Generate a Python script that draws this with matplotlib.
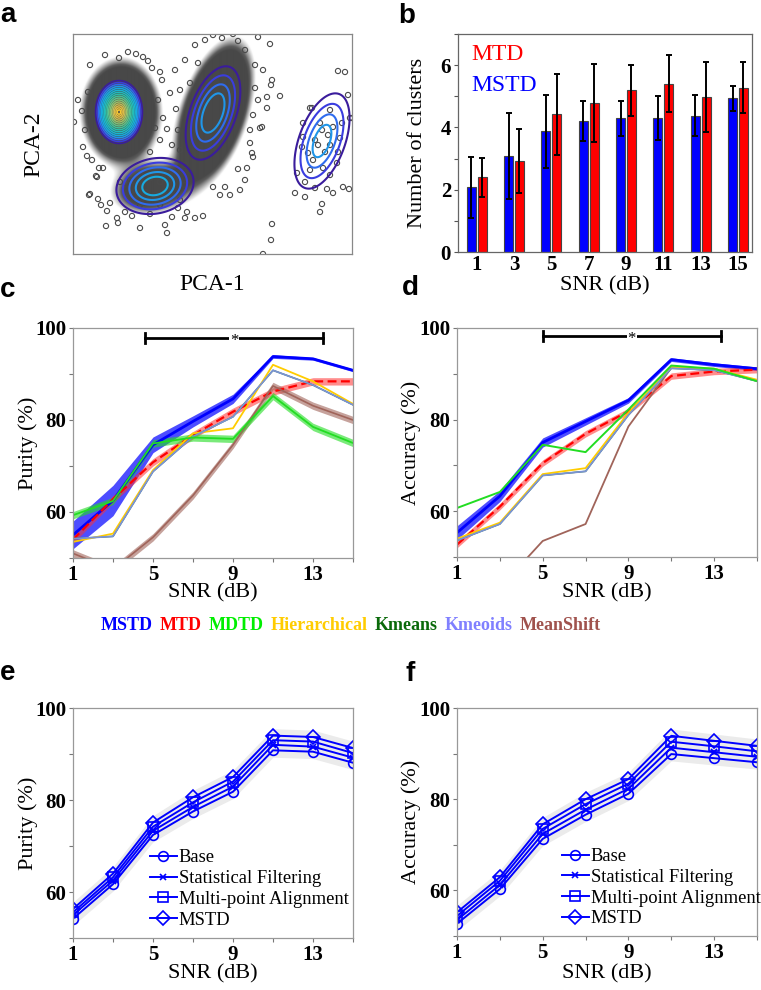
import numpy as np
import matplotlib
matplotlib.use("Agg")
import matplotlib.pyplot as plt
from matplotlib.colors import LinearSegmentedColormap
from matplotlib.offsetbox import TextArea, HPacker, AnchoredOffsetbox

plt.rcParams['font.family'] = ['Liberation Serif', 'DejaVu Serif']

# ---------------- panel a: PCA scatter (coordinates, y runs downward)
out_x = [74, 78, 82, 88, 119, 136, 148, 160, 170, 167, 155, 85, 83, 87, 90, 105, 128, 143, 152, 162,
         158, 163, 160, 150, 92, 99, 176, 190, 198,
         96, 103, 90, 98, 101, 107, 106, 117, 118, 140, 165, 167, 187, 195, 203, 97, 89, 110, 172, 185,
         213, 225, 125, 132, 150, 178, 130, 140, 150, 160, 170, 145, 155, 165, 175, 135, 125, 185, 120,
         140, 160, 180,
         213, 233, 238, 258, 270, 263, 272, 280, 267, 253, 262, 255, 271, 260, 267, 250, 247, 253, 238,
         252, 175, 180, 185, 195, 205, 222, 245, 255, 258, 250, 245, 240, 230, 220, 178, 180, 185, 172,
         272, 271, 263,
         338, 345, 348, 310, 303, 352, 312, 330, 320, 333, 342, 350, 303, 315, 328, 340, 302, 308, 313,
         325, 338, 323, 337, 297, 305, 315, 327, 343, 349, 295, 305, 322, 320, 333, 318, 330, 322, 310, 330]
out_y = [122, 100, 111, 92, 58, 54, 61, 72, 93, 129, 128, 130, 147, 156, 65, 55, 52, 57, 68, 80,
         100, 118, 140, 152, 160, 168, 109, 83, 63,
         176, 168, 194, 199, 205, 211, 226, 218, 223, 228, 225, 233, 212, 218, 216, 177, 195, 203, 217, 218,
         187, 187, 212, 216, 214, 208, 180, 175, 178, 182, 180, 192, 195, 195, 192, 195, 188, 185, 182,
         205, 205, 200,
         35, 34, 41, 37, 44, 70, 80, 96, 97, 115, 127, 65, 85, 128, 108, 143, 168, 157, 169,
         153, 70, 90, 60, 45, 40, 38, 50, 88, 100, 130, 180, 190, 195, 195, 130, 150, 165, 145,
         224, 240, 254,
         71, 72, 95, 108, 123, 118, 108, 110, 123, 127, 123, 118, 137, 140, 135, 138, 147, 153, 160,
         152, 152, 168, 163, 173, 182, 188, 189, 187, 189, 193, 197, 204, 212, 193, 145, 145, 130, 170, 175]

# dense point clouds (centre, spread along / across the tilt, tilt in degrees, relative density)
cloud_cx = [121, 214, 152]
cloud_cy = [112, 113, 188]
cloud_su = [16.5, 32, 22]
cloud_sv = [22, 14, 14]
cloud_ang = [0, -72, -10]
cloud_peak = [1.0, 1.0, 0.25]

# fitted density contours per cluster: centre, outer ring semi-axes, tilt, ring count, innermost ring
ring_cx = [119, 213, 155, 322]
ring_cy = [112, 113, 186, 141]
ring_a = [23.5, 49, 39, 50]
ring_b = [31.5, 23, 27.5, 23]
ring_ang = [0, -70, -12, -70]
ring_n = [16, 4, 5, 4]
ring_inner = [0.07, 0.42, 0.33, 0.34]

# ---------------- panel b: number of clusters
snr_b = [1, 3, 5, 7, 9, 11, 13, 15]
ncl_mstd = [2.08, 3.07, 3.88, 4.21, 4.29, 4.31, 4.38, 4.93]
ncl_mstd_err = [0.98, 1.38, 1.17, 0.63, 0.55, 0.70, 0.67, 0.40]
ncl_mtd = [2.40, 2.93, 4.43, 4.78, 5.19, 5.41, 4.97, 5.28]
ncl_mtd_err = [0.62, 1.02, 1.30, 1.26, 0.82, 0.90, 1.12, 0.83]

# ---------------- panels c, d: method comparison
snr = [1, 3, 5, 7, 9, 11, 13, 15]
pur_mstd = [55.0, 62.5, 74.6, 79.7, 84.6, 93.8, 93.3, 90.8]
pur_mstd_sd = [3.0, 3.3, 1.7, 1.2, 1.0, 0.4, 0.3, 0.3]
pur_mtd = [54.0, 62.8, 70.8, 76.7, 81.8, 86.2, 88.4, 88.4]
pur_mtd_sd = [0.8, 0.8, 0.8, 0.8, 0.8, 0.8, 0.8, 0.8]
pur_mdtd = [59.3, 62.4, 74.9, 76.2, 75.9, 85.2, 78.5, 75.0]
pur_mdtd_sd = [0.8, 0.8, 0.8, 0.8, 0.8, 0.8, 0.8, 0.8]
pur_hier = [53.5, 55.3, 69.1, 77.1, 78.2, 92.0, 88.4, 83.5]
pur_kmeans = [54.2, 54.7, 68.8, 76.4, 80.7, 90.8, 87.6, 83.3]
pur_kmeoids = [54.2, 54.7, 68.8, 76.4, 80.7, 90.8, 87.6, 83.3]
pur_meanshift = [51.0, 47.5, 54.5, 63.6, 74.6, 87.4, 83.1, 80.0]
pur_meanshift_sd = [0.8, 0.8, 0.8, 0.8, 0.8, 0.8, 0.8, 0.8]

acc_mstd = [55.3, 63.3, 75.0, 79.6, 84.2, 93.1, 92.0, 91.1]
acc_mstd_sd = [1.5, 1.2, 1.0, 0.8, 0.6, 0.4, 0.4, 0.4]
acc_mtd = [52.7, 61.0, 70.5, 76.9, 81.8, 89.5, 90.5, 90.9]
acc_mtd_sd = [0.7, 0.7, 0.7, 0.7, 0.7, 0.7, 0.7, 0.7]
acc_mdtd = [60.7, 64.2, 74.5, 72.9, 82.2, 91.8, 91.1, 88.4]
acc_hier = [54.0, 57.5, 68.1, 69.4, 81.5, 91.5, 91.1, 88.7]
acc_kmeans = [53.6, 57.2, 67.8, 68.7, 81.0, 91.2, 90.8, 88.4]
acc_kmeoids = [53.6, 57.2, 67.8, 68.7, 81.0, 91.2, 90.8, 88.4]
acc_meanshift = [38.0, 43.3, 53.5, 57.2, 78.5, 91.3, 91.1, 88.5]

legend_names = ["MSTD", "MTD", "MDTD", "Hierarchical", "Kmeans", "Kmeoids", "MeanShift"]

# ---------------- panels e, f: ablation
abl_names = ["Base", "Statistical Filtering", "Multi-point Alignment", "MSTD"]
pur_base = [54.2, 61.7, 72.4, 77.5, 81.8, 90.8, 90.5, 88.1]
pur_sf = [55.0, 62.5, 73.3, 78.5, 82.9, 92.0, 91.6, 89.2]
pur_mpa = [55.6, 63.2, 74.2, 79.5, 84.0, 93.0, 92.7, 90.2]
pur_full = [56.3, 64.0, 75.1, 80.6, 85.0, 94.0, 93.7, 91.3]
acc_base = [52.7, 60.3, 71.3, 76.6, 81.2, 89.9, 89.0, 88.1]
acc_sf = [53.5, 61.2, 72.4, 77.7, 82.3, 91.3, 90.3, 89.3]
acc_mpa = [54.4, 62.1, 73.5, 78.9, 83.4, 92.6, 91.6, 90.5]
acc_full = [55.2, 62.9, 74.5, 80.0, 84.4, 93.9, 92.8, 91.7]

# ---------------- styles
BLUE, RED, GREEN, GOLD = '#0000ff', '#ff0000', '#22dd22', '#ffcc00'
DKGREEN, PERI, BROWN = '#0a6a0a', '#8080ff', '#a0524d'
legend_colors = [BLUE, RED, '#00ee00', GOLD, DKGREEN, PERI, BROWN]
parula = LinearSegmentedColormap.from_list('parula', [
    (0.0, '#3a1c9c'), (0.06, '#3a3ee0'), (0.12, '#2f6ef0'), (0.18, '#1f98e8'),
    (0.26, '#14b2dc'), (0.42, '#2cbfa6'), (0.6, '#86c274'), (0.75, '#d8b84a'),
    (0.88, '#f8c832'), (1.0, '#f9f40e')])
greys = LinearSegmentedColormap.from_list('cloud', ['#ffffff', '#a8a8a8', '#5c5c5c', '#484848'])
LABELSIZE = 16


def frame(ax, color='#999999'):
    for s in ax.spines.values():
        s.set_color(color)
        s.set_linewidth(0.9)


def rotated(X, Y, x0, y0, t):
    t = np.deg2rad(t)
    dx, dy = X - x0, Y - y0
    return dx * np.cos(t) + dy * np.sin(t), -dx * np.sin(t) + dy * np.cos(t)


def snr_axes(ax, ylabel, xlab_y, ylab_x):
    ax.set_xlim(1, 15)
    ax.set_ylim(50, 100)
    ax.set_xticks([1, 5, 9, 13])
    ax.set_xticks([3, 7, 11, 15], minor=True)
    ax.set_yticks([60, 80, 100])
    ax.set_yticks([50, 70, 90], minor=True)
    ax.tick_params(which='both', length=3, width=0.8, color='#777777', pad=2)
    for lab in ax.get_xticklabels() + ax.get_yticklabels():
        lab.set_fontsize(15)
        lab.set_fontweight('bold')
    ax.set_xlabel("SNR (dB)", fontsize=LABELSIZE, va='center')
    ax.set_ylabel(ylabel, fontsize=LABELSIZE, va='center')
    ax.xaxis.set_label_coords(0.5, xlab_y)
    ax.yaxis.set_label_coords(ylab_x, 0.5)
    frame(ax)


def band(ax, y, sd, color, alpha, lw, ls='-', lcolor=None):
    y, sd = np.array(y), np.array(sd)
    ax.fill_between(snr, y - sd, y + sd, color=color, alpha=alpha, lw=0)
    ax.plot(snr, y, color=lcolor or color, lw=lw, ls=ls)


def bracket(ax, x0, x1, y, h):
    ax.plot([x0, x1], [y, y], color='black', lw=2.0)
    ax.plot([x0, x0], [y - h, y + h], color='black', lw=2.0)
    ax.plot([x1, x1], [y - h, y + h], color='black', lw=2.0)
    ax.text((x0 + x1) / 2, y - 0.6, "*", ha='center', va='center', fontsize=12,
            bbox=dict(facecolor='white', edgecolor='none', pad=0.6))


fig = plt.figure(figsize=(7.61, 9.90), dpi=100)
W, H = 761.0, 990.0


def add_axes(l, t, r, b):
    return fig.add_axes([l / W, 1 - b / H, (r - l) / W, (b - t) / H])


# ---------------- a
ax = add_axes(73, 34, 352, 254)
X, Y = np.meshgrid(np.linspace(73, 352, 560), np.linspace(34, 254, 440))
cloud = np.zeros_like(X)
for x0, y0, su, sv, t, p in zip(cloud_cx, cloud_cy, cloud_su, cloud_sv, cloud_ang, cloud_peak):
    u, v = rotated(X, Y, x0, y0, t)
    cloud += p * np.exp(-0.5 * ((u / su) ** 2 + (v / sv) ** 2))
shade = np.clip((cloud - 0.04) / (0.12 - 0.04), 0, 1)
ax.imshow(shade, cmap=greys, vmin=0, vmax=1, extent=(73, 352, 254, 34), origin='upper',
          interpolation='bilinear', aspect='auto')
ax.scatter(out_x, out_y, s=14, facecolors='none', edgecolors='#4a4a4a', linewidths=0.8)
for x0, y0, a, b, t, n, r0 in zip(ring_cx, ring_cy, ring_a, ring_b, ring_ang, ring_n, ring_inner):
    u, v = rotated(X, Y, x0, y0, t)
    m = np.sqrt((u / a) ** 2 + (v / b) ** 2)
    levels = np.linspace(r0, 1, n)
    cols = [parula((n - 1 - j) / 17) for j in range(n)]
    ax.contour(X, Y, m, levels=levels, colors=cols, linewidths=1.1 if n > 8 else 1.5)
ax.set_xlim(73, 352)
ax.set_ylim(254, 34)
ax.set_xticks([])
ax.set_yticks([])
ax.set_xlabel("PCA-1", fontsize=17, va='center')
ax.set_ylabel("PCA-2", fontsize=17, va='center')
ax.xaxis.set_label_coords(0.5, -0.14)
ax.yaxis.set_label_coords(-0.14, 0.5)
frame(ax, '#888888')

# ---------------- b
ax = add_axes(458, 34, 752, 252)
xb = np.array(snr_b)
ekw = dict(ecolor='black', elinewidth=1.4, capsize=2.5, capthick=1.4)
ax.bar(xb - 0.29, ncl_mstd, 0.48, yerr=ncl_mstd_err, color=BLUE, edgecolor='#444444',
       linewidth=0.8, error_kw=ekw)
ax.bar(xb + 0.29, ncl_mtd, 0.48, yerr=ncl_mtd_err, color=RED, edgecolor='#444444',
       linewidth=0.8, error_kw=ekw)
ax.set_xlim(0, 15.75)
ax.set_ylim(0, 7)
ax.set_xticks(snr_b)
ax.set_yticks([0, 2, 4, 6])
ax.set_yticks([1, 3, 5, 7], minor=True)
ax.tick_params(which='both', length=3, width=0.8, color='#555555', pad=2)
ax.tick_params(axis='x', length=0)
for lab in ax.get_xticklabels() + ax.get_yticklabels():
    lab.set_fontsize(15)
    lab.set_fontweight('bold')
ax.text(0.044, 0.905, "MTD", color=RED, fontsize=17, transform=ax.transAxes, va='center')
ax.text(0.044, 0.762, "MSTD", color=BLUE, fontsize=17, transform=ax.transAxes, va='center')
ax.set_xlabel("SNR (dB)", fontsize=LABELSIZE, va='center')
ax.set_ylabel("Number of clusters", fontsize=LABELSIZE, va='center')
ax.xaxis.set_label_coords(0.5, -0.155)
ax.yaxis.set_label_coords(-0.139, 0.5)
frame(ax, '#666666')

# ---------------- c
ax = add_axes(73, 328, 353, 558)
band(ax, pur_mstd, pur_mstd_sd, '#2020ff', 0.8, 2.0, lcolor=BLUE)
band(ax, pur_mtd, pur_mtd_sd, '#ff3030', 0.55, 1.6, ls=(0, (4, 2)), lcolor=RED)
band(ax, pur_meanshift, pur_meanshift_sd, '#a0645a', 0.6, 1.2)
ax.plot(snr, pur_kmeans, color=DKGREEN, lw=1.0)
ax.plot(snr, pur_hier, color=GOLD, lw=1.3)
ax.plot(snr, pur_kmeoids, color='#7b93d4', lw=1.3)
band(ax, pur_mdtd, pur_mdtd_sd, GREEN, 0.6, 1.3)
bracket(ax, 4.6, 13.5, 97.8, 1.1)
snr_axes(ax, "Purity (%)", -0.152, -0.161)

# ---------------- d
ax = add_axes(457, 328, 757, 557)
band(ax, acc_mstd, acc_mstd_sd, '#2020ff', 0.8, 2.0, lcolor=BLUE)
band(ax, acc_mtd, acc_mtd_sd, '#ff3030', 0.55, 1.6, ls=(0, (4, 2)), lcolor=RED)
ax.plot(snr, acc_meanshift, color='#a0645a', lw=1.3)
ax.plot(snr, acc_kmeans, color=DKGREEN, lw=1.0)
ax.plot(snr, acc_hier, color=GOLD, lw=1.3)
ax.plot(snr, acc_kmeoids, color='#7b93d4', lw=1.3)
ax.plot(snr, acc_mdtd, color=GREEN, lw=1.4)
bracket(ax, 5.0, 13.3, 98.2, 1.1)
snr_axes(ax, "Accuracy (%)", -0.157, -0.153)

# ---------------- legend row between c/d and e/f
areas = [TextArea(n, textprops=dict(color=c, fontsize=13.0, fontweight='bold'))
         for n, c in zip(legend_names, legend_colors)]
pack = HPacker(children=areas, align='baseline', pad=0, sep=5)
fig.add_artist(AnchoredOffsetbox(loc='center', child=pack, frameon=False, pad=0, borderpad=0,
                                 bbox_to_anchor=(351 / W, 1 - 626 / H),
                                 bbox_transform=fig.transFigure))

# ---------------- e, f
markers = ['o', 'x', 's', 'D']
for (l, t, r, b), series, ylab, xl, yl, anchor in [
        ((73, 708, 353, 938), [pur_base, pur_sf, pur_mpa, pur_full], "Purity (%)", -0.157, -0.161,
         (0.275, 0.385)),
        ((457, 708, 757, 936), [acc_base, acc_sf, acc_mpa, acc_full], "Accuracy (%)", -0.165, -0.153,
         (0.35, 0.385))]:
    ax = add_axes(l, t, r, b)
    ax.fill_between(snr, np.array(series[0]) - 1.5, np.array(series[-1]) + 1.5,
                    color='#bdbdbd', alpha=0.3, lw=0)
    for vals, m, name in zip(series, markers, abl_names):
        ax.plot(snr, vals, color=BLUE, lw=1.4, marker=m, ms=7 if m != 'x' else 5,
                mfc='none', mec=BLUE, mew=1.2, label=name)
    ax.legend(loc='upper left', bbox_to_anchor=anchor, frameon=False, fontsize=13.4,
              handlelength=1.45, handletextpad=0.1, labelspacing=0.2, borderpad=0,
              borderaxespad=0)
    snr_axes(ax, ylab, xl, yl)

# ---------------- panel letters
for letter, (px, py) in zip("abcdef", [(8, 15), (407, 16), (8, 290), (410, 288), (8, 673), (410, 674)]):
    fig.text(px / W, 1 - py / H, letter, fontsize=20, fontweight='bold',
             family=['Liberation Sans', 'DejaVu Sans'], ha='center', va='center')

fig.savefig("out.png", dpi=100)
